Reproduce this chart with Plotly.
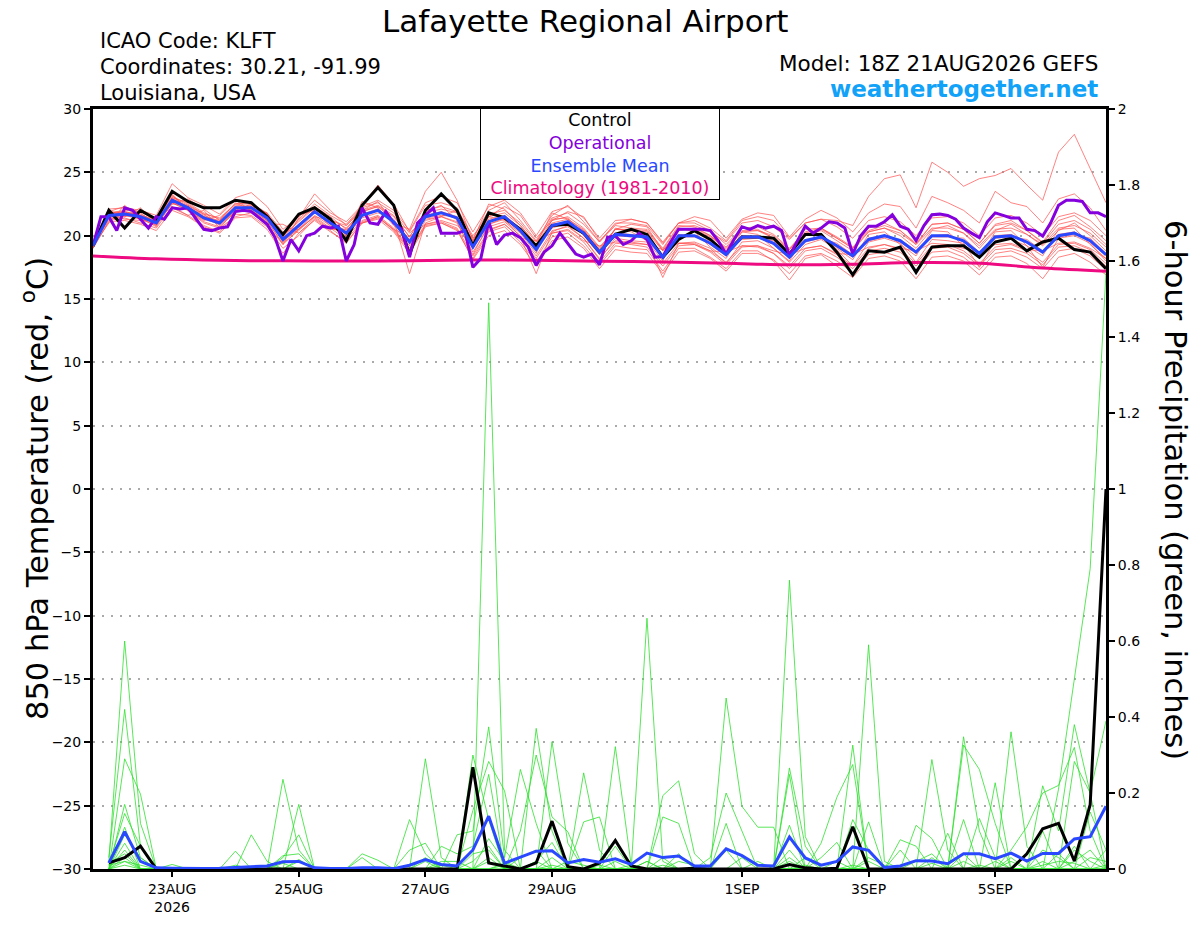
import pandas as pd
import plotly.graph_objects as go

# valid times: GEFS 18Z 21AUG2026 run, 6-hourly (operational is 3-hourly)
t_temp = pd.date_range("2026-08-21 18:00", periods=65, freq="6h")
t_prcp = t_temp[1:]
t_oper = pd.date_range("2026-08-21 18:00", periods=129, freq="3h")
t_clim = pd.date_range("2026-08-21 18:00", periods=17, freq="24h")

tick_dates = ["2026-08-23", "2026-08-25", "2026-08-27", "2026-08-29",
              "2026-09-01", "2026-09-03", "2026-09-05"]
tick_text = ["23AUG<br>2026", "25AUG", "27AUG", "29AUG", "1SEP", "3SEP", "5SEP"]

# ---- 850 hPa temperature (C) ----
control_t = [
    19.2, 22.0, 20.6, 22.0, 21.3, 23.5, 22.7, 22.2, 22.2, 22.8, 22.6, 21.5, 20.1, 21.7, 22.2, 21.3,
    19.6, 22.4, 23.8, 22.4, 18.5, 22.0, 23.3, 22.0, 19.2, 21.8, 21.4, 20.5, 19.2, 20.8, 20.9, 20.2,
    18.7, 20.1, 20.5, 20.1, 18.3, 19.7, 20.4, 19.7, 18.6, 19.9, 19.9, 19.8, 18.55, 20.1, 20.1, 18.7,
    16.9, 18.8, 18.7, 19.1, 17.1, 19.1, 19.2, 19.2, 18.3, 19.5, 19.8, 18.8, 19.5, 19.8, 18.9, 18.7,
    17.4]
mean_t = [
    19.2, 21.6, 21.7, 21.5, 21.0, 22.8, 22.2, 21.4, 21.0, 22.2, 22.2, 21.4, 19.7, 20.8, 21.9, 21.0,
    20.2, 21.6, 22.0, 21.1, 19.5, 21.5, 21.8, 21.4, 19.1, 21.1, 21.5, 20.4, 18.9, 20.8, 21.1, 20.2,
    18.7, 20.1, 20.0, 19.9, 18.3, 20.0, 20.0, 19.4, 18.5, 19.9, 19.9, 19.4, 18.3, 19.6, 19.9, 19.2,
    18.4, 19.7, 20.0, 19.6, 18.7, 20.0, 20.0, 19.6, 18.6, 19.9, 20.0, 19.5, 18.7, 20.0, 20.2, 19.6,
    18.5]
oper_t = [
    19.2, 21.5, 21.5, 20.4, 22.2, 22.0, 21.3, 20.6, 21.5, 21.3, 22.2, 22.1, 22.2, 21.3, 20.5, 20.4,
    20.6, 20.7, 21.9, 22.0, 21.9, 21.4, 20.9, 19.85, 18.0, 19.7, 18.8, 20.0, 20.2, 20.75, 20.6, 20.75,
    18.0, 19.3, 22.2, 21.0, 20.9, 21.9, 21.0, 20.5, 18.3, 21.0, 21.6, 22.2, 20.2, 20.2, 20.2, 20.4,
    17.5, 18.2, 21.1, 19.3, 20.05, 20.2, 19.85, 19.1, 17.65, 18.7, 19.2, 20.2, 19.4, 18.55, 18.3, 18.55,
    17.7, 19.85, 20.0, 19.3, 19.6, 20.2, 19.7, 18.3, 18.35, 19.5, 20.5, 20.5, 20.5, 20.5, 20.4, 19.6,
    18.55, 19.7, 20.7, 20.5, 20.8, 20.6, 20.75, 20.4, 18.4, 19.6, 20.75, 20.2, 20.6, 21.1, 21.0, 20.6,
    18.55, 20.0, 20.75, 20.75, 21.1, 21.65, 20.75, 20.5, 19.6, 20.8, 21.65, 21.7, 21.6, 21.3, 20.6, 20.2,
    19.85, 21.1, 21.8, 21.6, 21.4, 21.4, 20.5, 20.4, 19.97, 21.0, 22.4, 22.8, 22.8, 22.7, 21.8, 21.8,
    21.5]
clim_t = [18.4, 18.17, 18.05, 18.02, 18.0, 18.02, 18.08, 18.05, 17.99,
          17.92, 17.82, 17.7, 17.75, 17.88, 17.82, 17.45, 17.2]

red_m01 = [
    19.0, 21.8, 22.0, 21.9, 21.2, 23.0, 22.6, 21.8, 21.3, 22.5, 22.6, 21.7, 19.9, 21.2, 22.3, 21.5,
    20.5, 22.0, 22.4, 21.6, 19.9, 22.0, 22.3, 21.9, 19.6, 21.7, 22.0, 21.0, 19.5, 21.4, 21.8, 20.9,
    19.5, 21.0, 21.0, 20.8, 19.3, 21.0, 21.2, 20.6, 19.6, 21.2, 21.5, 21.2, 19.8, 21.0, 21.3, 21.2,
    20.8, 23.1, 24.5, 24.8, 22.2, 25.8, 25.0, 23.9, 24.5, 24.75, 25.3, 24.0, 22.8, 26.6, 28.0, 25.3,
    22.6]
red_m02 = [
    19.3, 21.3, 21.5, 21.9, 21.4, 23.2, 22.0, 21.0, 20.6, 22.0, 22.5, 21.8, 20.3, 20.5, 21.5, 21.2,
    20.8, 22.2, 22.6, 21.8, 20.2, 21.3, 21.5, 22.0, 20.0, 21.5, 22.3, 21.6, 19.8, 21.2, 21.9, 21.5,
    19.6, 20.9, 21.3, 21.0, 19.5, 21.0, 21.5, 21.2, 19.8, 21.3, 21.8, 21.6, 19.9, 21.3, 22.0, 21.4,
    20.3, 21.8, 22.5, 22.3, 20.6, 23.1, 22.6, 22.0, 21.0, 23.5, 22.6, 22.3, 21.0, 22.9, 23.3, 22.2,
    20.4]
red_m03 = [
    19.1, 21.9, 22.3, 21.8, 20.9, 22.5, 22.9, 22.1, 21.2, 22.6, 22.0, 20.9, 19.3, 21.4, 23.3, 22.0,
    20.8, 22.0, 22.7, 21.0, 20.5, 23.5, 25.0, 22.8, 19.6, 22.5, 22.1, 20.8, 19.3, 21.8, 21.3, 20.4,
    18.9, 20.5, 20.9, 20.7, 18.8, 20.4, 20.6, 20.0, 18.9, 20.3, 20.4, 19.8, 18.6, 20.0, 20.4, 19.6,
    18.8, 20.3, 20.6, 20.0, 19.0, 20.5, 20.8, 20.2, 19.0, 20.4, 20.9, 20.1, 19.2, 20.4, 21.0, 20.0,
    18.8]
red_m04 = [
    19.0, 21.2, 21.4, 21.0, 20.6, 22.3, 21.6, 20.8, 20.3, 21.7, 21.6, 20.7, 19.0, 20.0, 21.3, 20.4,
    19.4, 21.0, 21.3, 20.3, 18.6, 20.7, 21.0, 20.4, 18.2, 20.3, 20.7, 19.5, 17.9, 19.9, 20.2, 19.2,
    17.7, 19.2, 19.0, 18.9, 17.2, 19.0, 19.0, 18.3, 17.4, 18.8, 18.8, 18.0, 16.5, 18.2, 18.5, 17.6,
    16.7, 18.2, 18.4, 18.0, 16.6, 18.3, 18.4, 18.0, 16.9, 18.3, 18.4, 17.8, 16.6, 18.3, 18.6, 17.9,
    16.9]
red_m05 = [
    19.4, 21.7, 21.9, 21.3, 20.8, 23.0, 22.4, 21.6, 21.1, 22.1, 22.4, 21.6, 19.5, 20.6, 22.1, 21.3,
    20.1, 21.9, 22.3, 21.2, 17.0, 21.0, 21.5, 21.1, 18.5, 20.9, 21.3, 19.9, 17.0, 20.3, 20.8, 19.8,
    18.1, 19.8, 19.6, 19.5, 16.7, 19.4, 19.5, 19.0, 17.8, 19.5, 19.6, 19.0, 17.9, 19.3, 19.7, 18.9,
    17.6, 19.5, 19.8, 19.4, 17.9, 19.7, 19.6, 19.4, 17.5, 19.6, 19.7, 19.2, 17.5, 19.8, 20.0, 19.4,
    18.0]
red_m06 = [
    19.3, 22.1, 22.2, 22.0, 21.6, 24.1, 23.0, 22.4, 21.7, 23.0, 23.4, 22.3, 20.5, 21.5, 22.8, 21.8,
    21.1, 22.4, 24.0, 22.5, 20.3, 22.4, 22.6, 22.2, 19.8, 22.0, 22.6, 21.2, 19.6, 21.6, 22.4, 21.1,
    19.5, 20.8, 20.6, 20.5, 19.0, 20.8, 20.7, 20.0, 19.1, 20.6, 20.5, 19.8, 18.9, 20.5, 20.6, 19.8,
    19.0, 20.6, 21.0, 20.4, 19.3, 20.9, 21.0, 20.5, 19.4, 20.9, 21.2, 20.4, 19.5, 21.2, 21.6, 20.7,
    19.6]
red_m07 = [
    19.2, 21.4, 21.6, 21.4, 20.7, 22.6, 22.0, 21.1, 20.7, 21.9, 21.9, 21.1, 19.4, 20.4, 21.6, 20.8,
    19.9, 21.2, 21.6, 20.6, 19.0, 21.2, 21.5, 21.0, 18.7, 20.7, 21.1, 20.0, 18.4, 20.4, 20.7, 19.8,
    18.2, 19.6, 19.5, 19.3, 17.8, 19.4, 19.4, 18.8, 17.9, 19.2, 19.1, 18.6, 17.4, 18.8, 19.0, 18.3,
    17.4, 18.8, 19.0, 18.7, 17.6, 19.0, 19.1, 18.6, 17.6, 18.9, 19.0, 18.6, 17.7, 19.1, 19.2, 18.7,
    17.6]
red_m08 = [
    19.1, 21.8, 21.9, 21.6, 21.3, 23.1, 22.5, 21.7, 21.4, 22.5, 22.5, 21.7, 20.0, 21.1, 22.2, 21.3,
    20.6, 21.9, 22.3, 21.5, 19.9, 21.8, 22.1, 21.8, 19.5, 21.5, 21.8, 20.8, 19.3, 21.2, 21.5, 20.6,
    19.1, 20.5, 20.4, 20.3, 18.8, 20.5, 20.5, 19.9, 19.0, 20.4, 20.4, 20.0, 18.9, 20.2, 20.5, 19.8,
    19.0, 20.3, 20.6, 20.2, 19.3, 20.6, 20.6, 20.2, 19.2, 20.5, 20.6, 20.1, 19.3, 20.6, 20.8, 20.2,
    19.1]
red_m09 = [
    19.2, 21.0, 22.4, 21.2, 21.5, 22.2, 21.6, 22.0, 20.6, 21.5, 21.8, 20.9, 20.9, 20.2, 21.4, 20.5,
    20.5, 21.0, 21.4, 20.5, 19.9, 20.9, 21.2, 20.8, 19.8, 20.5, 20.9, 19.8, 19.6, 20.2, 20.5, 19.6,
    19.2, 19.5, 19.4, 19.3, 18.9, 19.4, 19.3, 18.8, 18.7, 19.2, 19.2, 18.8, 18.5, 19.0, 19.2, 18.6,
    18.5, 19.1, 19.3, 19.0, 18.8, 19.4, 19.3, 19.0, 18.7, 19.3, 19.4, 18.9, 18.8, 19.4, 19.5, 19.0,
    18.2]
red_m10 = [
    19.3, 21.5, 21.8, 21.7, 21.1, 22.9, 22.3, 21.5, 21.2, 22.4, 22.3, 21.6, 20.2, 21.3, 22.5, 21.6,
    20.9, 22.3, 22.8, 22.0, 20.4, 22.6, 23.1, 22.6, 20.3, 22.3, 22.8, 21.8, 20.0, 21.9, 22.3, 21.4,
    19.8, 21.2, 21.3, 21.0, 19.4, 21.0, 21.0, 20.4, 19.3, 20.6, 20.7, 20.1, 19.0, 20.3, 20.6, 19.9,
    19.1, 20.4, 20.8, 20.4, 19.4, 20.9, 21.0, 20.5, 19.4, 20.8, 21.0, 20.4, 19.4, 20.9, 21.2, 20.5,
    19.3]
red_m11 = [
    19.0, 21.1, 21.2, 20.9, 20.4, 22.0, 21.5, 20.7, 20.2, 21.4, 21.5, 20.5, 18.6, 20.2, 21.2, 20.3,
    19.5, 21.0, 21.5, 20.5, 18.9, 20.9, 21.1, 20.6, 18.4, 20.4, 20.9, 19.8, 18.2, 20.2, 20.4, 19.5,
    17.9, 19.4, 19.3, 19.1, 17.6, 19.2, 19.3, 18.7, 17.7, 19.1, 19.2, 18.6, 17.6, 19.0, 19.2, 18.5,
    17.6, 19.0, 19.3, 18.9, 17.8, 19.2, 19.3, 18.8, 17.8, 19.1, 19.3, 18.8, 17.9, 19.3, 19.4, 18.9,
    17.8]
red_m12 = [
    19.2, 22.0, 21.5, 22.2, 21.0, 23.3, 22.0, 21.2, 21.6, 22.8, 22.0, 21.2, 19.9, 21.6, 22.0, 20.7,
    20.0, 22.7, 22.2, 20.8, 19.2, 21.9, 22.4, 21.2, 19.0, 21.5, 21.2, 20.2, 18.6, 21.3, 21.4, 20.0,
    18.5, 20.6, 20.3, 19.6, 18.0, 20.6, 20.3, 19.1, 18.2, 20.3, 20.1, 19.0, 18.0, 20.0, 20.2, 19.0,
    18.1, 20.1, 20.3, 19.3, 18.4, 20.4, 20.3, 19.2, 18.3, 20.3, 20.4, 19.2, 18.4, 20.5, 20.6, 19.3,
    18.2]
red_m13 = [
    19.1, 21.6, 21.3, 21.2, 21.2, 22.5, 22.4, 21.7, 20.8, 21.9, 22.1, 21.8, 19.6, 20.5, 21.8, 21.2,
    20.3, 21.4, 21.8, 21.3, 19.6, 21.4, 21.6, 21.5, 19.2, 20.9, 21.4, 20.6, 19.0, 20.6, 21.0, 20.4,
    18.8, 20.0, 19.9, 20.0, 18.4, 19.9, 19.9, 19.6, 18.6, 19.7, 19.8, 19.6, 18.4, 19.5, 19.8, 19.4,
    18.5, 19.6, 19.9, 19.7, 18.8, 19.9, 19.9, 19.8, 18.7, 19.8, 19.9, 19.7, 18.8, 19.9, 20.1, 19.8,
    18.6]
red_m14 = [
    19.2, 21.5, 21.6, 21.3, 20.9, 22.7, 22.1, 21.3, 20.9, 22.0, 22.0, 21.2, 19.3, 20.5, 21.5, 20.6,
    19.7, 21.1, 21.5, 20.4, 18.8, 20.8, 21.0, 20.5, 18.1, 20.0, 20.4, 19.3, 17.6, 19.6, 19.9, 19.0,
    17.4, 18.9, 18.7, 18.6, 17.0, 18.7, 18.8, 18.2, 17.2, 18.6, 18.6, 18.1, 17.0, 18.4, 18.6, 18.0,
    17.1, 18.5, 18.7, 18.3, 17.3, 18.7, 18.8, 18.3, 17.3, 18.6, 18.8, 18.3, 17.4, 18.8, 19.0, 18.4,
    17.3]
red_m15 = [
    19.3, 21.7, 21.9, 21.6, 21.1, 22.6, 22.0, 21.3, 21.1, 22.3, 22.1, 21.3, 19.8, 20.9, 21.9, 21.0,
    20.4, 21.7, 22.1, 21.1, 19.7, 21.6, 21.9, 21.5, 19.3, 21.3, 21.6, 20.6, 19.1, 21.0, 21.3, 20.5,
    19.0, 20.5, 20.5, 20.4, 18.9, 20.7, 20.8, 20.3, 19.5, 21.0, 21.2, 20.7, 19.7, 21.0, 21.3, 20.7,
    19.8, 21.2, 21.5, 21.1, 20.0, 21.4, 21.5, 21.0, 20.0, 21.4, 21.6, 21.0, 20.0, 21.5, 21.8, 21.2,
    20.0]
red_m16 = [
    19.2, 21.9, 21.6, 21.6, 20.8, 22.9, 22.3, 21.5, 21.0, 22.1, 22.3, 21.5, 19.6, 20.9, 22.0, 20.9,
    20.1, 21.5, 22.1, 21.0, 19.4, 21.6, 21.8, 21.3, 19.0, 21.2, 21.4, 20.3, 18.8, 20.9, 21.0, 20.1,
    18.6, 20.2, 20.1, 19.8, 18.2, 20.1, 20.0, 19.3, 18.4, 20.0, 19.9, 19.3, 18.2, 19.7, 19.8, 19.1,
    18.3, 19.8, 20.0, 19.5, 18.6, 20.0, 20.1, 19.5, 18.5, 20.0, 20.1, 19.4, 18.6, 20.1, 20.3, 19.5,
    18.4]

# ---- 6-hour precipitation (inches), 22AUG 00Z onward ----
control_p = [
    0.016, 0.03, 0.06, 0, 0, 0, 0, 0, 0, 0, 0, 0, 0, 0, 0, 0,
    0, 0, 0, 0, 0, 0, 0, 0.268, 0.016, 0.008, 0, 0.016, 0.126, 0.006, 0, 0.016,
    0.075, 0.008, 0, 0, 0, 0.002, 0, 0, 0, 0, 0, 0.012, 0.003, 0, 0.002, 0.111,
    0, 0, 0, 0, 0, 0, 0, 0, 0, 0, 0.04, 0.106, 0.12, 0.021, 0.169, 1.0]
mean_p = [
    0.016, 0.098, 0.02, 0.003, 0.002, 0.001, 0.001, 0.002, 0.004, 0.006, 0.008, 0.019, 0.02, 0.003, 0.001, 0.001,
    0.003, 0.003, 0.001, 0.01, 0.025, 0.012, 0.008, 0.05, 0.139, 0.015, 0.03, 0.047, 0.048, 0.016, 0.025, 0.018,
    0.027, 0.012, 0.042, 0.03, 0.034, 0.008, 0.008, 0.053, 0.035, 0.01, 0.008, 0.084, 0.029, 0.01, 0.02, 0.058,
    0.049, 0.004, 0.008, 0.022, 0.021, 0.014, 0.04, 0.04, 0.027, 0.042, 0.021, 0.041, 0.041, 0.079, 0.085, 0.165]

green_m01 = [
    0.02, 0.60, 0.12, 0, 0, 0, 0, 0, 0, 0, 0, 0.236, 0.05, 0, 0, 0,
    0, 0, 0, 0, 0, 0, 0, 0, 0.08, 0.02, 0, 0.37, 0.10, 0, 0, 0,
    0, 0, 0.02, 0, 0, 0, 0, 0, 0, 0, 0, 0.266, 0.06, 0, 0, 0,
    0, 0, 0, 0, 0, 0, 0.348, 0.10, 0, 0, 0, 0, 0, 0.05, 0.02, 0]
green_m02 = [
    0.03, 0.42, 0.06, 0, 0, 0, 0, 0, 0, 0.09, 0.02, 0, 0, 0, 0, 0,
    0, 0, 0, 0, 0.29, 0.03, 0, 0, 1.49, 0.05, 0, 0, 0, 0, 0, 0,
    0.322, 0.01, 0, 0, 0, 0, 0, 0.12, 0, 0, 0, 0, 0, 0, 0, 0,
    0.124, 0, 0, 0, 0, 0, 0, 0, 0, 0.361, 0.06, 0, 0, 0, 0, 0.05]
green_m03 = [
    0, 0.29, 0.197, 0, 0, 0, 0, 0, 0, 0, 0, 0, 0.17, 0, 0, 0,
    0, 0, 0, 0.05, 0.068, 0, 0, 0.30, 0.13, 0, 0, 0, 0, 0, 0.253, 0.05,
    0, 0, 0.66, 0.02, 0, 0, 0, 0, 0, 0, 0, 0.76, 0.085, 0, 0, 0,
    0, 0, 0, 0, 0.288, 0.05, 0, 0, 0, 0, 0, 0, 0.21, 0.50, 0.79, 1.57]
green_m04 = [
    0, 0.17, 0.03, 0, 0, 0, 0, 0, 0.047, 0, 0, 0, 0, 0, 0, 0,
    0.04, 0.023, 0, 0, 0, 0, 0.09, 0.10, 0.374, 0.03, 0.262, 0.12, 0, 0, 0, 0,
    0, 0, 0, 0.193, 0.232, 0.04, 0, 0, 0, 0, 0, 0, 0, 0, 0, 0.326,
    0, 0, 0, 0, 0, 0, 0, 0, 0, 0, 0, 0.219, 0.10, 0.38, 0.2, 0.39]
green_m05 = [
    0.01, 0.146, 0.06, 0, 0, 0, 0, 0, 0, 0, 0, 0.03, 0.09, 0, 0, 0,
    0, 0, 0, 0.13, 0.04, 0, 0, 0.154, 0.283, 0.206, 0, 0, 0.335, 0.068, 0, 0,
    0, 0, 0, 0, 0, 0, 0, 0.45, 0.165, 0.11, 0.11, 0, 0, 0, 0, 0,
    0.59, 0.02, 0, 0, 0, 0, 0.326, 0.262, 0.12, 0, 0, 0, 0, 0, 0.15, 0.05]
green_m06 = [
    0, 0.11, 0, 0, 0, 0, 0, 0, 0, 0, 0, 0.035, 0.04, 0, 0, 0,
    0, 0, 0, 0, 0, 0.06, 0.04, 0.06, 0.249, 0, 0.10, 0.30, 0.137, 0.098, 0, 0,
    0.06, 0, 0, 0.137, 0.12, 0, 0, 0, 0, 0, 0, 0.249, 0, 0.068, 0.189, 0.275,
    0, 0, 0, 0.115, 0.08, 0, 0, 0, 0, 0.05, 0.111, 0.2, 0.22, 0.32, 0.1, 0]
green_m07 = [
    0, 0.09, 0.03, 0, 0, 0, 0, 0, 0, 0, 0, 0, 0, 0, 0, 0,
    0.03, 0, 0, 0, 0, 0.02, 0.02, 0, 0, 0, 0, 0, 0, 0, 0.124, 0.137,
    0, 0, 0, 0, 0, 0, 0.03, 0.2, 0.10, 0, 0, 0.115, 0, 0, 0, 0,
    0, 0, 0.077, 0.06, 0, 0, 0.13, 0, 0, 0, 0, 0.1, 0, 0.283, 0.2, 0]
green_m08 = [
    0, 0.068, 0, 0, 0.012, 0, 0, 0, 0, 0, 0.01, 0, 0, 0, 0, 0,
    0, 0, 0, 0, 0.02, 0, 0, 0.04, 0.05, 0, 0, 0, 0, 0, 0, 0,
    0, 0, 0, 0, 0, 0, 0, 0, 0, 0, 0, 0.03, 0, 0, 0, 0.13,
    0.05, 0, 0, 0, 0, 0.094, 0, 0, 0.227, 0, 0, 0, 0, 0.06, 0, 0]
green_m09 = [
    0, 0.05, 0, 0, 0, 0, 0, 0, 0, 0, 0, 0, 0.02, 0, 0, 0,
    0, 0, 0, 0, 0, 0, 0, 0, 0.03, 0, 0, 0.02, 0.07, 0, 0, 0,
    0, 0, 0.02, 0, 0, 0, 0, 0, 0.03, 0, 0, 0, 0, 0.03, 0.07, 0,
    0, 0, 0.05, 0, 0, 0, 0, 0.133, 0.03, 0, 0, 0.05, 0.03, 0, 0, 0]
green_m10 = [
    0, 0.03, 0, 0, 0, 0, 0, 0, 0, 0, 0, 0, 0, 0, 0, 0,
    0, 0, 0, 0, 0, 0, 0, 0, 0, 0, 0.03, 0.05, 0, 0, 0, 0,
    0, 0.01, 0, 0, 0, 0, 0, 0, 0, 0.02, 0, 0, 0.03, 0, 0, 0,
    0, 0, 0, 0.02, 0.04, 0, 0, 0, 0, 0.02, 0, 0, 0, 0, 0.03, 0.02]
green_m11 = [
    0.015, 0.04, 0, 0, 0, 0, 0, 0, 0.01, 0, 0, 0, 0.025, 0, 0, 0,
    0, 0, 0, 0, 0, 0.01, 0, 0, 0, 0.015, 0, 0, 0, 0.02, 0.01, 0,
    0, 0, 0, 0, 0.02, 0.01, 0, 0, 0, 0, 0, 0.02, 0, 0, 0, 0.01,
    0, 0, 0, 0, 0.015, 0, 0.02, 0, 0, 0, 0, 0.01, 0.02, 0.015, 0, 0]
green_m12 = [
    0, 0.02, 0.01, 0, 0, 0, 0, 0, 0, 0, 0, 0, 0, 0, 0, 0,
    0, 0, 0, 0, 0, 0, 0, 0.02, 0.06, 0, 0, 0, 0.03, 0, 0, 0,
    0.02, 0, 0, 0.03, 0, 0, 0, 0.05, 0, 0, 0, 0, 0.01, 0, 0, 0,
    0.03, 0.01, 0, 0, 0, 0, 0.04, 0, 0, 0.03, 0, 0, 0, 0.02, 0.05, 0]
green_m13 = [
    0.01, 0.02, 0, 0, 0, 0, 0, 0, 0, 0, 0, 0.015, 0, 0, 0, 0,
    0, 0, 0, 0, 0.03, 0, 0, 0, 0, 0.01, 0, 0.02, 0, 0, 0, 0.01,
    0, 0, 0, 0, 0.04, 0, 0, 0, 0, 0, 0, 0.05, 0, 0, 0.02, 0,
    0, 0, 0, 0, 0.03, 0, 0, 0, 0.02, 0, 0, 0, 0.04, 0, 0, 0.01]
green_m14 = [
    0, 0.01, 0, 0, 0, 0, 0, 0, 0, 0, 0, 0, 0, 0, 0, 0,
    0, 0, 0, 0, 0, 0, 0, 0, 0.02, 0, 0, 0, 0.01, 0, 0, 0,
    0, 0, 0, 0.01, 0, 0, 0, 0, 0, 0, 0, 0, 0, 0, 0, 0,
    0.02, 0, 0, 0, 0, 0, 0, 0.01, 0, 0, 0, 0.02, 0, 0, 0, 0]

red_members = [red_m01, red_m02, red_m03, red_m04, red_m05, red_m06, red_m07, red_m08,
               red_m09, red_m10, red_m11, red_m12, red_m13, red_m14, red_m15, red_m16]
green_members = [green_m01, green_m02, green_m03, green_m04, green_m05, green_m06, green_m07,
                 green_m08, green_m09, green_m10, green_m11, green_m12, green_m13, green_m14]

RED = "#ff4d4d"
GREEN = "#2ee02e"
PURPLE = "#8400dc"
BLUE = "#2a48ff"
PINK = "#ee0a80"
FONT = "DejaVu Sans, Liberation Sans, Arial, sans-serif"

fig = go.Figure()

# ensemble members
for m in red_members:
    fig.add_trace(go.Scatter(x=t_temp, y=m, mode="lines", line=dict(color=RED, width=0.7)))
fig.add_trace(go.Scatter(x=t_clim, y=clim_t, mode="lines", line=dict(color=PINK, width=3, shape="spline")))
fig.add_trace(go.Scatter(x=t_temp, y=control_t, mode="lines", line=dict(color="black", width=3)))
fig.add_trace(go.Scatter(x=t_oper, y=oper_t, mode="lines", line=dict(color=PURPLE, width=3)))
fig.add_trace(go.Scatter(x=t_temp, y=mean_t, mode="lines", line=dict(color=BLUE, width=3)))

# precipitation on the right axis
for m in green_members:
    fig.add_trace(go.Scatter(x=t_prcp, y=m, mode="lines", yaxis="y2",
                             line=dict(color=GREEN, width=0.8)))
fig.add_trace(go.Scatter(x=t_prcp, y=control_p, mode="lines", yaxis="y2",
                         line=dict(color="black", width=3)))
fig.add_trace(go.Scatter(x=t_prcp, y=mean_p, mode="lines", yaxis="y2",
                         line=dict(color=BLUE, width=3)))


def py(ypix):
    # pixel row -> paper y (plot spans rows 109..883)
    return (883 - ypix) / 774


def px(xpix):
    # pixel column -> paper x (plot spans cols 93..1106)
    return (xpix - 93) / 1013


legend_txt = ("Control<br>"
              f"<span style='color:{PURPLE}'>Operational</span><br>"
              f"<span style='color:{BLUE}'>Ensemble Mean</span><br>"
              f"<span style='color:{PINK}'>Climatology (1981-2010)</span>")

annotations = [
    dict(text="Lafayette Regional Airport", x=px(585), y=py(19), font=dict(size=31)),
    dict(text="ICAO Code: KLFT", x=px(98), y=py(40), xanchor="left", font=dict(size=21)),
    dict(text="Coordinates: 30.21, -91.99", x=px(98), y=py(66), xanchor="left", font=dict(size=21)),
    dict(text="Louisiana, USA", x=px(98), y=py(93), xanchor="left", font=dict(size=21)),
    dict(text="Model: 18Z 21AUG2026 GEFS", x=px(1100), y=py(63), xanchor="right", font=dict(size=21.5)),
    dict(text="<b>weathertogether.net</b>", x=px(1100), y=py(89), xanchor="right",
         font=dict(size=23, color="#12a2f7")),
    dict(text="850 hPa Temperature (red, <sup>o</sup>C)", x=px(35), y=py(496), textangle=-90,
         font=dict(size=30.5)),
    dict(text="6-hour Precipitation (green, inches)", x=px(1175), y=py(497), textangle=90,
         font=dict(size=30.5)),
    dict(text=legend_txt, x=px(600), y=py(108), yanchor="top", align="center",
         bgcolor="white", bordercolor="black", borderwidth=1, borderpad=1, width=236,
         font=dict(size=17.5)),
]
for a in annotations:
    a.setdefault("xref", "paper")
    a.setdefault("yref", "paper")
    a.setdefault("showarrow", False)
    a.setdefault("xanchor", "center")
    a.setdefault("yanchor", "middle")

fig.update_layout(
    width=1200, height=927,
    margin=dict(l=93, r=94, t=109, b=44),
    paper_bgcolor="white", plot_bgcolor="white",
    showlegend=False,
    font=dict(family=FONT, color="black"),
    annotations=annotations,
    xaxis=dict(range=[t_temp[0], t_temp[-1]], tickvals=tick_dates, ticktext=tick_text,
               ticks="outside", ticklen=5, tickwidth=2, tickcolor="black",
               showline=True, linewidth=3, linecolor="black", mirror=True,
               showgrid=False, zeroline=False, tickfont=dict(size=14)),
    yaxis=dict(range=[-30, 30], tickvals=list(range(-30, 31, 5)),
               ticks="outside", ticklen=6, tickwidth=2, tickcolor="black",
               showline=True, linewidth=3, linecolor="black",
               showgrid=True, gridcolor="#aaaaaa", griddash="2px,7px", gridwidth=1.5,
               zeroline=False, tickfont=dict(size=14)),
    yaxis2=dict(range=[0, 2], overlaying="y", side="right",
                tickvals=[0, 0.2, 0.4, 0.6, 0.8, 1, 1.2, 1.4, 1.6, 1.8, 2],
                ticks="outside", ticklen=6, tickwidth=2, tickcolor="black",
                showline=True, linewidth=3, linecolor="black",
                showgrid=False, zeroline=False, tickfont=dict(size=14)),
)

# page body margin would shift the fixed-size figure
fig.write_html("out.html", config={"displayModeBar": False},
               post_script="document.body.style.margin='0';")
